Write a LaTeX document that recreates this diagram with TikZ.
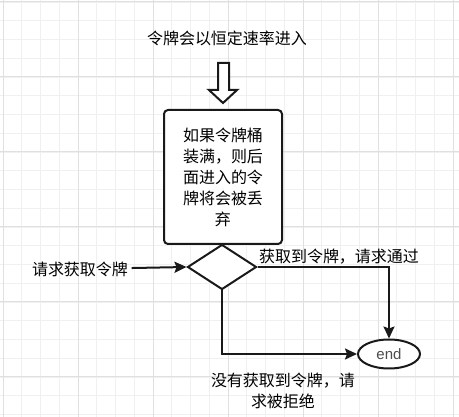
\documentclass[tikz,border=0pt]{standalone}
\usepackage{fontspec}
\setmainfont{Liberation Sans}
\newfontfamily\cjk{Noto Sans CJK SC}
\usetikzlibrary{positioning,arrows.meta,shapes}

\begin{document}
\begin{tikzpicture}[x=1pt,y=-1pt]
	\tikzstyle{every node}+=[font=\cjk\fontsize{16}{21}\selectfont, text=black]
	\tikzstyle{line}=[line width=2pt, draw=black!90]
	\tikzstyle{arr}=[line, -{Stealth[length=12pt,width=11pt,inset=2pt]}]
	\useasboundingbox (0,0) rectangle (459,417);
	\fill[white] (0,0) rectangle (459,417);
	% grid
	\foreach \i in {0,...,24} \draw[black!6, line width=0.8pt] ({3+18.75*\i},0) -- ({3+18.75*\i},417);
	\foreach \i in {0,...,22} \draw[black!6, line width=0.8pt] (0,{2+18.75*\i}) -- (459,{2+18.75*\i});
	\foreach \i in {0,...,6} \draw[black!12, line width=1pt] ({3+75*\i},0) -- ({3+75*\i},417);
	\foreach \i in {0,...,5} \draw[black!12, line width=1pt] (0,{2+75*\i}) -- (459,{2+75*\i});
	% nodes
	\node (title) at (227,38) {令牌会以恒定速率进入};
	\node[line, fill=white, rounded corners=4pt, minimum width=118pt, minimum height=134pt, align=center] (bucket) at (223,177) {如果令牌桶\\装满，则后\\面进入的令\\牌将会被丢\\弃};
	\node[line, fill=white, diamond, minimum width=69pt, minimum height=45pt, inner sep=0pt] (check) at (222,267) {};
	\node (req) at (80,269) {请求获取令牌};
	\node[line, fill=white, ellipse, minimum width=62pt, minimum height=29pt, inner sep=0pt, font=\fontsize{15}{18}\selectfont, text=black!70] (end) at (389,354) {end};
	\node (pass) at (339,257) {获取到令牌，请求通过};
	\node[align=center] (reject) at (283,391) {没有获取到令牌，请\\求被拒绝};
	% block arrow
	\draw[line, fill=white] (218,63) -- (229,63) -- (229,90) -- (237,90) -- (223,103) -- (209,90) -- (218,90) -- cycle;
	% connectors
	\draw[arr] (req) -- (check.west);
	\draw[arr] (check.east) -| (end.north);
	\draw[arr] (check.south) |- (end.west);
\end{tikzpicture}
\end{document}
